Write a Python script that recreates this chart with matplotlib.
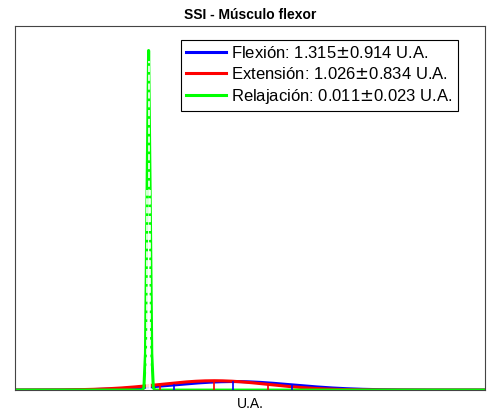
import numpy as np
import matplotlib
matplotlib.use("Agg")
import matplotlib.pyplot as plt
plt.rcParams['font.family'] = ['Liberation Sans', 'DejaVu Sans']

labels = ["Flexión", "Extensión", "Relajación"]
means = [1.315, 1.026, 0.011]
stds = [0.914, 0.834, 0.023]
colors = ["#0000ff", "#ff0000", "#00ff00"]
stem_colors = ["#0000ff", "#ff0000", "white"]

fig = plt.figure(figsize=(5, 4.19), dpi=100)
ax = fig.add_axes([0.03, 0.069, 0.94, 0.869])
x = np.linspace(-2.05, 5.2, 300)
for lab, m, s, c in zip(labels, means, stds, colors):
    xs = np.sort(np.concatenate([x, [m - s, m, m + s]]))
    y = np.exp(-0.5 * ((xs - m) / s) ** 2) / (s * np.sqrt(2 * np.pi))
    ax.plot(xs, y, color=c, lw=2.2, label=f"{lab}: {m:.3f}$\\pm${s:.3f} U.A.")
for m, s, sc in zip(means, stds, stem_colors):
    for xv in (m - s, m, m + s):
        yv = np.exp(-0.5 * ((xv - m) / s) ** 2) / (s * np.sqrt(2 * np.pi))
        ls = "--" if sc == "white" else "-"
        ax.plot([xv, xv], [0, yv * 0.97], color=sc, lw=1.2, ls=ls)
ax.set_xlim(-2.05, 5.2)
ax.set_ylim(0, 18.6)
ax.set_xticks([]); ax.set_yticks([])
for sp in ax.spines.values():
    sp.set_color("#444444"); sp.set_linewidth(0.8)
ax.set_title("SSI - Músculo flexor", fontsize=10, fontweight="bold", pad=5)
ax.set_xlabel("U.A.", fontsize=10, labelpad=5)
leg = ax.legend(loc="upper right", fontsize=12, fancybox=False, framealpha=1,
                edgecolor="black", handlelength=2.4, borderpad=0.3, labelspacing=0.3,
                bbox_to_anchor=(0.96, 0.985), handletextpad=0.3)
leg.get_frame().set_linewidth(0.8)
fig.savefig("out.png", dpi=100)
